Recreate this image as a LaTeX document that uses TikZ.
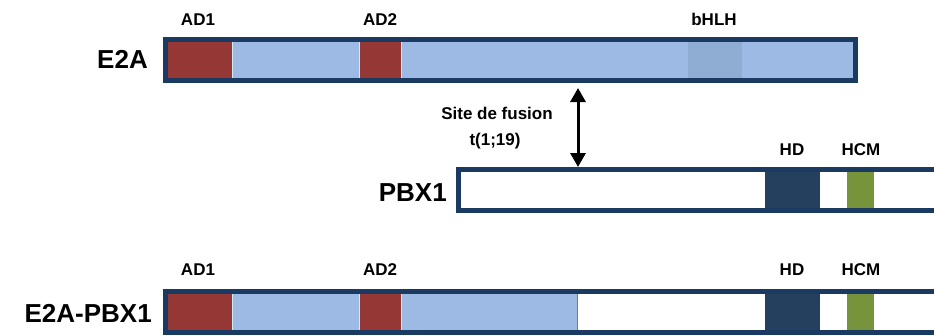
\documentclass[tikz,border=0pt]{standalone}
\usepackage{fontspec}
\setmainfont{Liberation Sans}
\usetikzlibrary{arrows.meta}
\definecolor{bordc}{HTML}{1B3A62}
\definecolor{adred}{HTML}{953735}
\definecolor{ltblue}{HTML}{9DBAE4}
\definecolor{bhlhc}{HTML}{8FADD3}
\definecolor{hdc}{HTML}{253F5F}
\definecolor{hcmc}{HTML}{77933C}
\definecolor{sepc}{HTML}{C8ECF6}
\definecolor{edgec}{HTML}{4F81BD}
\tikzset{
  barbox/.style={draw=bordc, line width=5pt, inner sep=0pt, outer sep=2.5pt, anchor=north west},
  biglab/.style={font=\bfseries\fontsize{26}{28}\selectfont, anchor=base east, inner sep=0pt},
  smlab/.style={font=\bfseries\fontsize{17}{19}\selectfont, anchor=base, inner sep=0pt},
  sepline/.style={sepc, line width=1pt},
  dblarrow/.style={line width=3pt, {Triangle[width=15pt,length=14pt]}-{Triangle[width=15pt,length=14pt]}}
}
\begin{document}
\begin{tikzpicture}[x=1pt,y=-1pt]
\useasboundingbox (0,0) rectangle (934,335);
\clip (0,0) rectangle (934,335);
\fill[white] (0,0) rectangle (934,335);

% ---------- E2A ----------
\node[barbox, fill=ltblue, minimum width=690pt, minimum height=41pt] (e2a) at (163,37) {};
\fill[adred] (168,42) rectangle (232,78);
\fill[adred] (360,42) rectangle (401,78);
\fill[bhlhc] (688,42) rectangle (742,78);
\draw[sepline] (232.5,42) -- (232.5,78);
\draw[sepline] (359.5,42) -- (359.5,78);
\draw[sepline] (401.5,42) -- (401.5,78);
\node[biglab] (le2a) at (148,68) {E2A};
\node[smlab] (lad1a) at (198,25) {AD1};
\node[smlab] (lad2a) at (380,25) {AD2};
\node[smlab] (lbhlh) at (714,25) {bHLH};

% ---------- PBX1 ----------
\node[barbox, fill=white, minimum width=490pt, minimum height=41pt] (pbx) at (456,167) {};
\fill[hdc] (765,172) rectangle (820,208);
\fill[hcmc] (847,172) rectangle (874,208);
\node[biglab] (lpbx) at (447,201) {PBX1};
\node[smlab] (lhda) at (792,155) {HD};
\node[smlab] (lhcma) at (861,155) {HCM};

% ---------- fusion arrow ----------
\coordinate (fus) at (578,0);
\draw[dblarrow] ([yshift=-5pt]e2a.south -| fus) -- (pbx.north -| fus);
\node[smlab] (lsite) at (497,119) {Site de fusion};
\node[smlab] (lt) at (495,145) {t(1;19)};

% ---------- E2A-PBX1 ----------
\node[barbox, fill=white, minimum width=780pt, minimum height=41pt] (fusb) at (163,289) {};
\fill[adred] (168,294) rectangle (232,330);
\fill[ltblue] (232,294) rectangle (360,330);
\fill[adred] (360,294) rectangle (401,330);
\fill[ltblue] (401,294) rectangle (578,330);
\fill[hdc] (765,294) rectangle (820,330);
\fill[hcmc] (847,294) rectangle (874,330);
\draw[sepline] (232.5,294) -- (232.5,330);
\draw[sepline] (359.5,294) -- (359.5,330);
\draw[sepline] (401.5,294) -- (401.5,330);
\draw[edgec, line width=1.2pt] (577.5,294) -- (577.5,330);
\node[biglab] (lfus) at (152,322) {E2A-PBX1};
\node[smlab] (lad1b) at (198,275) {AD1};
\node[smlab] (lad2b) at (380,275) {AD2};
\node[smlab] (lhdb) at (792,275) {HD};
\node[smlab] (lhcmb) at (861,275) {HCM};
\end{tikzpicture}
\end{document}
